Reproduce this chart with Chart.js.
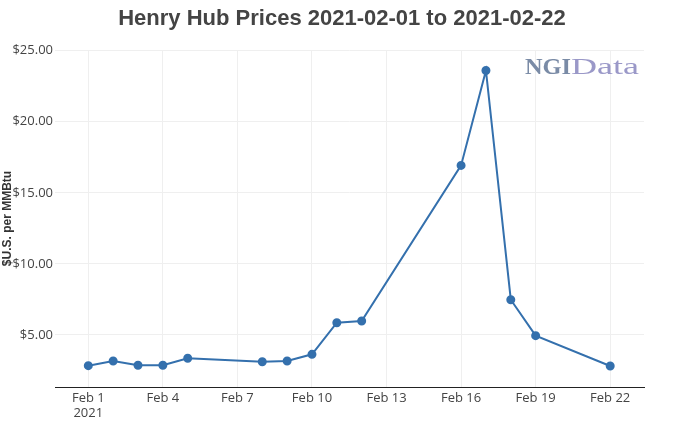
<!DOCTYPE html>
<html>
<head>
<meta charset="utf-8">
<script src="https://cdn.jsdelivr.net/npm/chart.js@4.4.0/dist/chart.umd.min.js"></script>
<style>
html, body { margin: 0; padding: 0; background: #fff; }
#wrap { width: 684px; height: 427px; }
</style>
</head>
<body>
<div id="wrap"><canvas id="priceChart" width="684" height="427"></canvas></div>
<script>
// Henry Hub daily prices, Feb 2021 (day of month -> $/MMBtu)
const days = [1, 2, 3, 4, 5, 8, 9, 10, 11, 12, 16, 17, 18, 19, 22];
const prices = [2.84, 3.17, 2.87, 2.87, 3.36, 3.12, 3.17, 3.64, 5.86, 5.98, 16.93, 23.61, 7.48, 4.95, 2.82];

const xTickDays = [1, 4, 7, 10, 13, 16, 19, 22];
const yTickValues = [5, 10, 15, 20, 25];
const monthLabel = 'Feb', yearLabel = '2021';
const chartTitle = 'Henry Hub Prices 2021-02-01 to 2021-02-22';
const yAxisTitle = '$U.S. per MMBtu';

const lineColor = '#3470ad';
const gridColor = '#efefef';
const textColor = '#444';

// title centred on the whole canvas (the built-in one centres on the padded box)
const pageTitle = {
    id: 'pageTitle',
    afterDraw(chart) {
        const ctx = chart.ctx;
        ctx.save();
        ctx.font = 'bold 22px "Liberation Sans", Arial, sans-serif';
        ctx.fillStyle = textColor;
        ctx.textAlign = 'center';
        ctx.textBaseline = 'middle';
        ctx.fillText(chartTitle, chart.width / 2, 19);
        ctx.restore();
    }
};

// NGIData watermark top right
const ngiLogo = {
    id: 'ngiLogo',
    beforeDatasetsDraw(chart) {
        const ctx = chart.ctx;
        ctx.save();
        ctx.textBaseline = 'alphabetic';
        const drawFit = (txt, font, color, x, y, w) => {
            ctx.font = font;
            const mw = ctx.measureText(txt).width;
            ctx.save();
            ctx.translate(x, y);
            ctx.scale(w / mw, 1);
            ctx.fillStyle = color;
            ctx.fillText(txt, 0, 0);
            ctx.restore();
        };
        drawFit('NGI', 'bold 24px "Liberation Serif", serif', '#7a8ba6', 525, 74, 46);
        drawFit('Data', '24px "Liberation Serif", serif', '#9a98c8', 571, 74, 68);
        ctx.restore();
    }
};

new Chart(document.getElementById('priceChart'), {
    type: 'line',
    data: {
        datasets: [{
            data: days.map((d, i) => ({ x: d, y: prices[i] })),
            borderColor: lineColor,
            backgroundColor: lineColor,
            borderWidth: 2,
            pointRadius: 3.5,
            pointHoverRadius: 4,
            tension: 0
        }]
    },
    options: {
        responsive: false,
        animation: false,
        layout: { padding: { left: 0, right: 40, top: 50, bottom: 0 } },
        plugins: {
            legend: { display: false },
            tooltip: { enabled: false },
            title: { display: false }
        },
        scales: {
            x: {
                type: 'linear',
                min: -0.34,
                max: 23.36,
                afterBuildTicks: s => { s.ticks = xTickDays.map(v => ({ value: v })); },
                afterFit: s => { s.height = 40; },
                grid: { color: gridColor, drawTicks: false },
                border: { display: true, color: '#222', width: 1 },
                ticks: {
                    color: textColor,
                    padding: 3,
                    maxRotation: 0,
                    autoSkip: false,
                    font: { family: '"Open Sans", sans-serif', size: 13, lineHeight: 1.2 },
                    callback: v => v === xTickDays[0] ? [monthLabel + ' ' + v, yearLabel] : monthLabel + ' ' + v
                }
            },
            y: {
                type: 'linear',
                min: 1.34,
                max: 25.05,
                afterBuildTicks: s => { s.ticks = yTickValues.map(v => ({ value: v })); },
                afterFit: s => { s.width = 55; },
                grid: { color: gridColor, drawTicks: false },
                border: { display: false },
                title: {
                    display: true,
                    text: yAxisTitle,
                    color: '#333',
                    padding: 0,
                    font: { family: '"Liberation Sans", Arial, sans-serif', size: 12, weight: 'bold' }
                },
                ticks: {
                    color: textColor,
                    padding: 2,
                    font: { family: '"Open Sans", sans-serif', size: 13 },
                    callback: v => '$' + Number(v).toFixed(2)
                }
            }
        }
    },
    plugins: [ngiLogo, pageTitle]
});
</script>
</body>
</html>
